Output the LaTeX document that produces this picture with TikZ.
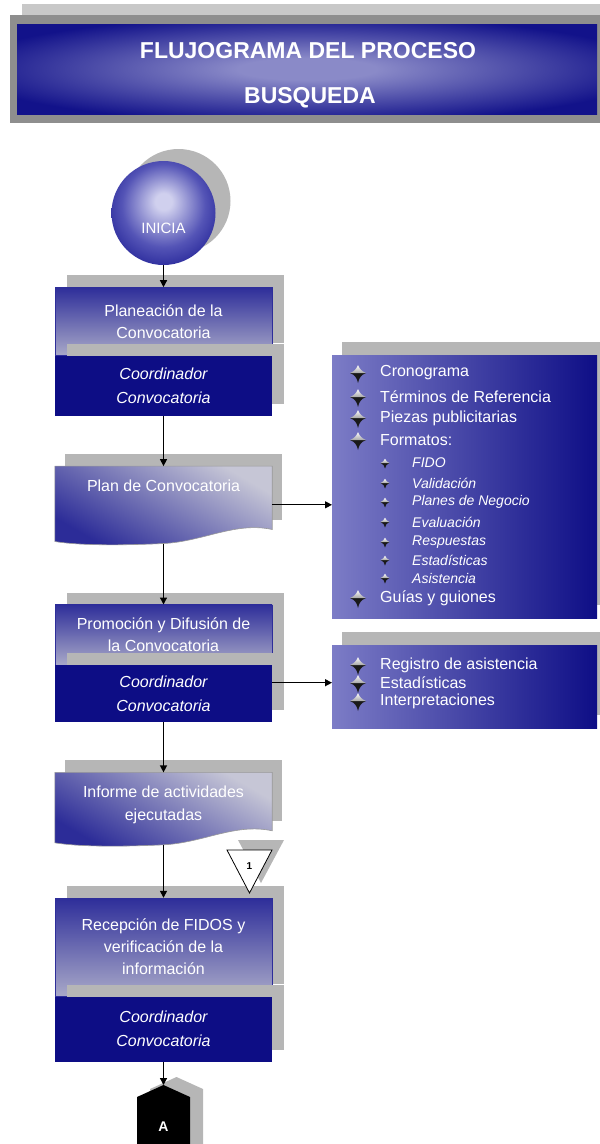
\documentclass[tikz,border=0pt]{standalone}
\usepackage{fontspec}
\setmainfont{Liberation Sans}
\usepackage{tikz}
\usetikzlibrary{positioning,calc,arrows.meta,shadows}
\definecolor{navy}{HTML}{0D0D85}
\definecolor{procA}{HTML}{2E2E9A}
\definecolor{procB}{HTML}{A8A8C8}
\definecolor{docA}{HTML}{2C2C98}
\definecolor{docB}{HTML}{C6C6D6}
\definecolor{lstA}{HTML}{7C7CC6}
\definecolor{lstB}{HTML}{0E0E86}
\definecolor{ghost}{HTML}{B6B6B6}
\definecolor{frame}{HTML}{8E8E8E}
\definecolor{strip}{HTML}{C8C8C8}
\definecolor{titleA}{HTML}{8A8AC8}
\definecolor{titleB}{HTML}{12128A}
\definecolor{ballA}{HTML}{D0D0EE}
\definecolor{ballM}{HTML}{5454B6}
\definecolor{ballB}{HTML}{1E1E94}
\pgfdeclareradialshading{glowtitle}{\pgfpoint{0bp}{0bp}}{color(0bp)=(titleA); color(6bp)=(titleA); color(30bp)=(titleB); color(50bp)=(titleB)}
\pgfdeclareradialshading{glowball}{\pgfpoint{0bp}{6bp}}{color(0bp)=(ballA); color(4bp)=(ballA); color(20bp)=(ballM); color(32bp)=(ballB); color(50bp)=(ballB)}
\tikzset{
  flow/.style={draw=black, line width=1.3pt, -{Triangle[length=7pt,width=7pt]}},
  boxshadow/.style={drop shadow={shadow xshift=12pt, shadow yshift=12pt, fill=ghost, opacity=1}},
  banner/.style={rectangle, shade, shading=glowtitle, minimum width=580pt, minimum height=90pt},
  ttl/.style={text=white, font=\fontsize{23}{28}\selectfont\bfseries},
  startc/.style={circle, shade, shading=glowball, minimum size=104pt, drop shadow={shadow xshift=15pt, shadow yshift=12pt, fill=ghost, opacity=1}},
  lbl/.style={text=white, font=\fontsize{15}{18}\selectfont},
  proc/.style={rectangle, minimum width=217pt, top color=procA, bottom color=procB, draw=procA, line width=0.5pt, text=white, align=center, font=\fontsize{16}{22}\selectfont, boxshadow},
  resp/.style={rectangle, minimum width=217pt, fill=navy, text=white, align=center, font=\fontsize{16}{24}\selectfont\itshape, boxshadow},
  doc/.style={rectangle, minimum width=217pt, inner sep=0pt},
  docfill/.style={top color=docB, bottom color=docA, shading angle=-30, draw=gray!80, line width=0.6pt},
  doctxt/.style={text=white, align=center, font=\fontsize{16}{23}\selectfont},
  lst/.style={rectangle, anchor=north west, left color=lstA, right color=lstB, minimum width=265pt, drop shadow={shadow xshift=10pt, shadow yshift=13pt, fill=ghost, opacity=1}},
  item/.style={anchor=west, inner sep=0pt, text=white, font=\fontsize{16}{18}\selectfont},
  subitem/.style={item, font=\fontsize{14}{16}\selectfont\itshape},
  pics/bul/.style={code={
    \begin{scope}[scale=#1]
      \fill[black!90] (-8pt,0pt) .. controls (-3pt,-2pt) and (-1pt,-5pt) .. (0pt,-10pt) .. controls (1pt,-5pt) and (3pt,-2pt) .. (8pt,0pt) -- cycle;
      \shade[top color=white, bottom color=black!35] (-8pt,0pt) .. controls (-4pt,1.5pt) and (-1.5pt,4pt) .. (0pt,8pt) .. controls (1.5pt,4pt) and (4pt,1.5pt) .. (8pt,0pt) -- cycle;
    \end{scope}
  }},
  pics/bul/.default=1,
}

\begin{document}
\begin{tikzpicture}[x=1pt,y=-1pt]
  \useasboundingbox (0,0) rectangle (600,1144);

  \fill[strip] (22,4) rectangle (612,112);
  \fill[frame] (10,15) rectangle (602,123);
  \node[banner] (ban) at (307,69) {};
  \node[ttl] (ttl1) at (308,51) {FLUJOGRAMA DEL PROCESO};
  \node[ttl] (ttl2) at (310,98) {BUSQUEDA};

  \node[startc] (inicia) at (163.5,213) {};
  \node[lbl] (iniciaT) at ($(inicia)+(0,15)$) {INICIA};

  \node[proc, minimum height=68pt, below=22pt of inicia] (planea) {Planeación de la\\Convocatoria};
  \node[resp, minimum height=60pt, below=0pt of planea] (planeaR) {Coordinador\\Convocatoria};

  \node[doc, minimum height=77pt, below=50pt of planeaR] (plan) {};
  \fill[ghost] ($(plan.north west)+(10,-12)$) rectangle ($(plan.south east)+(10,-24)$);
  \path[docfill] (plan.north west) -- (plan.north east) -- ($(plan.south east)+(0,-14)$) .. controls +(-37,-8) and +(40,-2) .. (plan.south) .. controls +(-43,2) and +(25,4) .. ($(plan.south west)+(0,-2)$) -- cycle;
  \node[doctxt] (planT) at ($(plan.north)+(0,20)$) {Plan de Convocatoria};

  \node[proc, minimum height=60pt, below=61pt of plan] (promo) {Promoción y Difusión de\\la Convocatoria};
  \node[resp, minimum height=57pt, below=0pt of promo] (promoR) {Coordinador\\Convocatoria};

  \node[doc, minimum height=72pt, below=50pt of promoR] (inform) {};
  \fill[ghost] ($(inform.north west)+(10,-12)$) rectangle ($(inform.south east)+(10,-24)$);
  \path[docfill] (inform.north west) -- (inform.north east) -- ($(inform.south east)+(0,-14)$) .. controls +(-37,-8) and +(40,-2) .. (inform.south) .. controls +(-43,2) and +(25,4) .. ($(inform.south west)+(0,-2)$) -- cycle;
  \node[doctxt] (informT) at ($(inform.north)+(0,32)$) {Informe de actividades\\ejecutadas};

  \node[proc, minimum height=98pt, below=53pt of inform] (recep) {Recepción de FIDOS y\\verificación de la\\información};
  \node[resp, minimum height=65pt, below=0pt of recep] (recepR) {Coordinador\\Convocatoria};

  \fill[ghost] (238,840) -- (284,840) -- (261,883) -- cycle;
  \draw[fill=white, line width=0.8pt] (227,850) -- (272,850) -- (249.5,893) -- cycle;
  \node[font=\fontsize{10}{12}\selectfont\bfseries] (tri1) at (249.5,866) {1};

  \coordinate (Atop) at (163.5,1085);
  \fill[ghost] ($(Atop)+(13,-8)$) -- ++(26.5,12) -- ++(0,60) -- ++(-53,0) -- ++(0,-60) -- cycle;
  \fill[black] (Atop) -- ++(26.5,12) -- ++(0,60) -- ++(-53,0) -- ++(0,-60) -- cycle;
  \node[text=white, font=\fontsize{14}{16}\selectfont\bfseries] (conA) at (163.5,1127) {A};

  \node[lst, minimum height=263pt] (lst1) at (332,355) {};
  \foreach \t/\yy [count=\i] in {Cronograma/373,Términos de Referencia/397,Piezas publicitarias/418,Formatos:/440,Guías y guiones/598}{
    \pic at (358,\yy) {bul};
    \node[item] (it\i) at (380,\yy) {\t};
  }
  \foreach \t/\yy [count=\i] in {FIDO/463,Validación/483,Planes de Negocio/502,Evaluación/522,Respuestas/542,Estadísticas/560,Asistencia/578}{
    \pic at (385,\yy) {bul=0.55};
    \node[subitem] (fmt\i) at (412,\yy) {\t};
  }

  \node[lst, minimum height=83pt] (lst2) at (332,645) {};
  \foreach \t/\yy [count=\i] in {Registro de asistencia/665,Estadísticas/683,Interpretaciones/701}{
    \pic at (358,\yy) {bul};
    \node[item] (reg\i) at (380,\yy) {\t};
  }

  \draw[flow] (inicia.south) -- (planea.north);
  \draw[flow] (planeaR.south) -- (plan.north);
  \draw[flow] (plan.south) -- (promo.north);
  \draw[flow] (promoR.south) -- (inform.north);
  \draw[flow] (inform.south) -- (recep.north);
  \draw[flow] (recepR.south) -- (Atop);
  \draw[flow] (plan.east) -- (plan.east -| lst1.west);
  \coordinate (p2) at ($(promoR.east)+(0,-11)$);
  \draw[flow] (p2) -- (p2 -| lst2.west);
\end{tikzpicture}
\end{document}
